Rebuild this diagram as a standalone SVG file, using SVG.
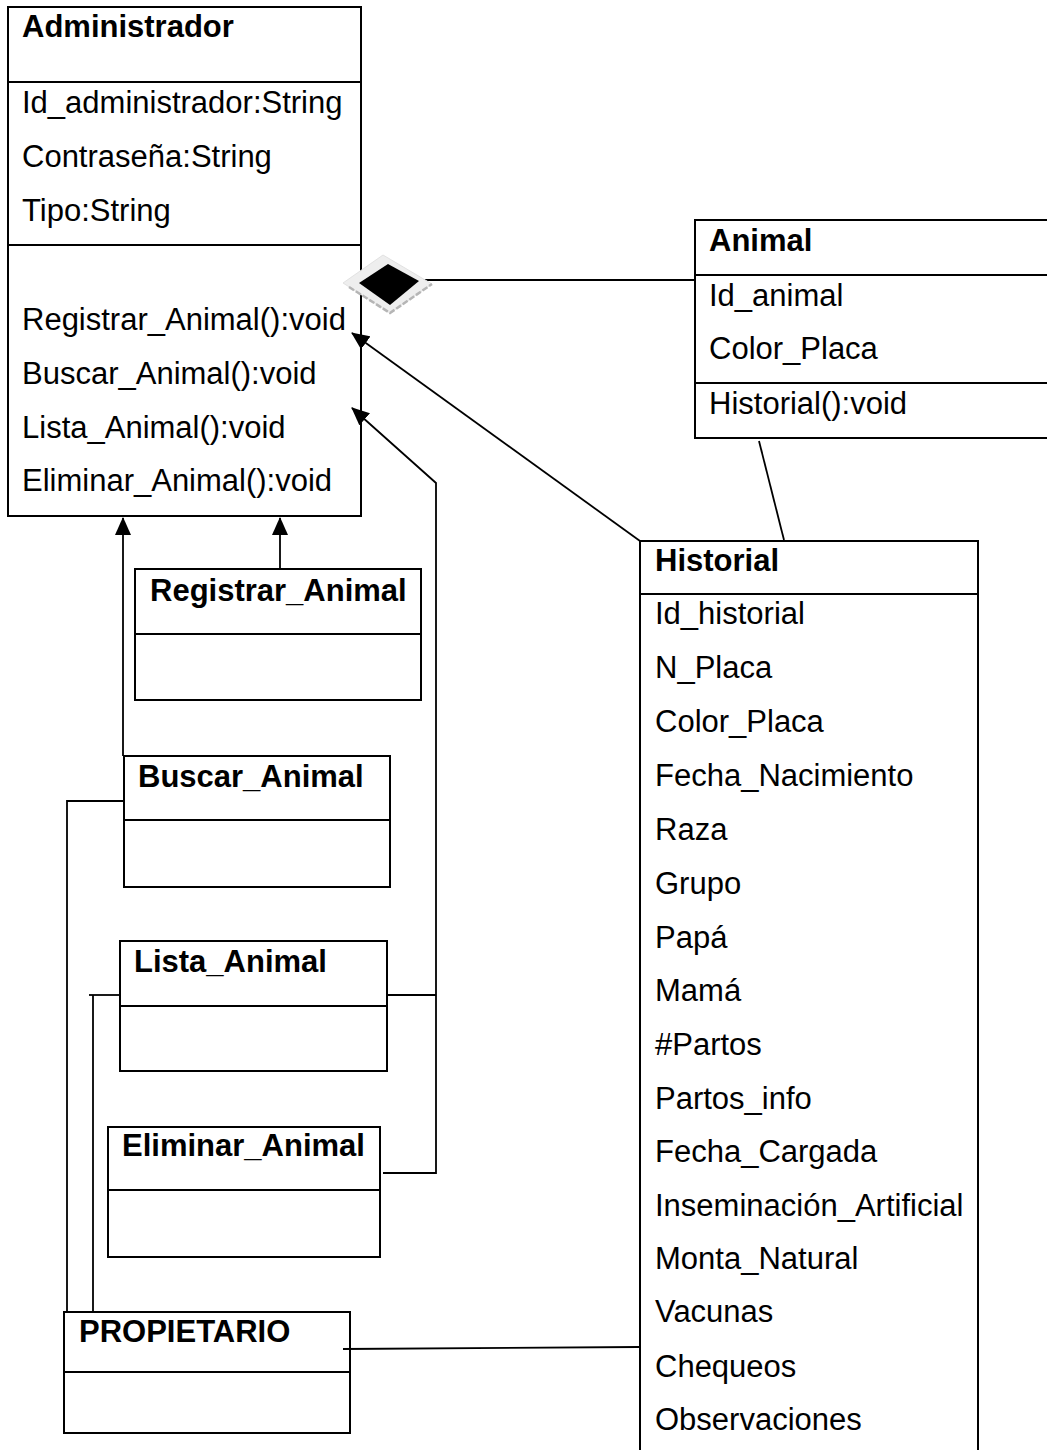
<svg xmlns="http://www.w3.org/2000/svg" width="1047" height="1450" viewBox="0 0 1047 1450">
  <style>
    .box { fill: #ffffff; stroke: #000000; stroke-width: 2; }
    .div { stroke: #000000; stroke-width: 2; }
    .title { font-family: "Liberation Sans", Arial, sans-serif; font-size: 31px; font-weight: bold; fill: #000000; }
    .attr { font-family: "Liberation Sans", Arial, sans-serif; font-size: 31px; fill: #000000; }
    .conn { fill: none; stroke: #000000; stroke-width: 1.8; }
  </style>
  <defs>
    <marker id="arrow" viewBox="0 0 18 16" refX="17" refY="8" markerWidth="18" markerHeight="16" markerUnits="userSpaceOnUse" orient="auto">
      <path d="M0,0 L18,8 L0,16 Z" fill="#000000"/>
    </marker>
  </defs>

  <rect width="1047" height="1450" fill="#ffffff"/>

  <!-- Administrador -->
  <g id="administrador">
    <rect class="box" x="8" y="7" width="353" height="509"/>
    <line class="div" x1="8" y1="82" x2="361" y2="82"/>
    <line class="div" x1="8" y1="245" x2="361" y2="245"/>
    <text class="title" x="22" y="37">Administrador</text>
    <text class="attr" x="22" y="113">Id_administrador:String</text>
    <text class="attr" x="22" y="167">Contraseña:String</text>
    <text class="attr" x="22" y="221">Tipo:String</text>
    <text class="attr" x="22" y="330">Registrar_Animal():void</text>
    <text class="attr" x="22" y="384">Buscar_Animal():void</text>
    <text class="attr" x="22" y="438">Lista_Animal():void</text>
    <text class="attr" x="22" y="491">Eliminar_Animal():void</text>
  </g>

  <!-- Animal -->
  <g id="animal">
    <rect class="box" x="695" y="220" width="360" height="218"/>
    <line class="div" x1="695" y1="275" x2="1047" y2="275"/>
    <line class="div" x1="695" y1="383" x2="1047" y2="383"/>
    <text class="title" x="709" y="251">Animal</text>
    <text class="attr" x="709" y="306">Id_animal</text>
    <text class="attr" x="709" y="359">Color_Placa</text>
    <text class="attr" x="709" y="414">Historial():void</text>
  </g>

  <!-- Historial -->
  <g id="historial">
    <rect class="box" x="640" y="541" width="338" height="920"/>
    <line class="div" x1="640" y1="594" x2="978" y2="594"/>
    <text class="title" x="655" y="571">Historial</text>
    <text class="attr" x="655" y="624">Id_historial</text>
    <text class="attr" x="655" y="678">N_Placa</text>
    <text class="attr" x="655" y="732">Color_Placa</text>
    <text class="attr" x="655" y="786">Fecha_Nacimiento</text>
    <text class="attr" x="655" y="840">Raza</text>
    <text class="attr" x="655" y="894">Grupo</text>
    <text class="attr" x="655" y="948">Papá</text>
    <text class="attr" x="655" y="1001">Mamá</text>
    <text class="attr" x="655" y="1055">#Partos</text>
    <text class="attr" x="655" y="1109">Partos_info</text>
    <text class="attr" x="655" y="1162">Fecha_Cargada</text>
    <text class="attr" x="655" y="1216">Inseminación_Artificial</text>
    <text class="attr" x="655" y="1269">Monta_Natural</text>
    <text class="attr" x="655" y="1322">Vacunas</text>
    <text class="attr" x="655" y="1377">Chequeos</text>
    <text class="attr" x="655" y="1430">Observaciones</text>
  </g>

  <!-- Registrar_Animal -->
  <g id="registrar-animal">
    <rect class="box" x="135" y="569" width="286" height="131"/>
    <line class="div" x1="135" y1="634" x2="421" y2="634"/>
    <text class="title" x="150" y="601">Registrar_Animal</text>
  </g>

  <!-- Buscar_Animal -->
  <g id="buscar-animal">
    <rect class="box" x="124" y="756" width="266" height="131"/>
    <line class="div" x1="124" y1="820" x2="390" y2="820"/>
    <text class="title" x="138" y="787">Buscar_Animal</text>
  </g>

  <!-- Lista_Animal -->
  <g id="lista-animal">
    <rect class="box" x="120" y="941" width="267" height="130"/>
    <line class="div" x1="120" y1="1006" x2="387" y2="1006"/>
    <text class="title" x="134" y="972">Lista_Animal</text>
  </g>

  <!-- Eliminar_Animal -->
  <g id="eliminar-animal">
    <rect class="box" x="108" y="1127" width="272" height="130"/>
    <line class="div" x1="108" y1="1190" x2="380" y2="1190"/>
    <text class="title" x="122" y="1156">Eliminar_Animal</text>
  </g>

  <!-- PROPIETARIO -->
  <g id="propietario">
    <rect class="box" x="64" y="1312" width="286" height="121"/>
    <line class="div" x1="64" y1="1372" x2="350" y2="1372"/>
    <text class="title" x="79" y="1342">PROPIETARIO</text>
  </g>

  <!-- Connectors, drawn over the boxes so arrowheads stay visible -->
  <g id="connectors">
    <!-- Historial -> Administrador -->
    <line class="conn" x1="640" y1="541" x2="352" y2="333" marker-end="url(#arrow)"/>
    <!-- Lista/Eliminar -> Administrador -->
    <polyline class="conn" points="387,995 436,995"/>
    <polyline class="conn" points="383,1173 436,1173 436,483 352,408" marker-end="url(#arrow)"/>
    <!-- Registrar_Animal -> Administrador -->
    <line class="conn" x1="280" y1="569" x2="280" y2="518" marker-end="url(#arrow)"/>
    <!-- Buscar_Animal -> Administrador -->
    <line class="conn" x1="123" y1="756" x2="123" y2="518" marker-end="url(#arrow)"/>
    <!-- Buscar_Animal -> PROPIETARIO -->
    <polyline class="conn" points="124,801 67,801 67,1312"/>
    <!-- Lista_Animal -> PROPIETARIO -->
    <polyline class="conn" points="120,995 89,995"/>
    <line class="conn" x1="93" y1="995" x2="93" y2="1312"/>
    <!-- PROPIETARIO - Historial -->
    <line class="conn" x1="343" y1="1349" x2="639" y2="1347"/>
    <!-- Animal - Historial -->
    <line class="conn" x1="759" y1="441" x2="784" y2="540"/>
    <!-- Animal composition (diamond at Administrador) -->
    <line class="conn" x1="418" y1="280" x2="695" y2="280"/>
    <g id="diamond">
      <polygon points="343,283 383,255 432,284 390,313" fill="#eeeeee" stroke="#e2e2e2" stroke-width="1"/>
      <polyline points="349,287 390,313 432,284" fill="none" stroke="#b5b5b5" stroke-width="2.5" stroke-dasharray="6,2"/>
      <polygon points="359,283 388,264 419,281 390,305" fill="#000000"/>
    </g>
  </g>
</svg>
